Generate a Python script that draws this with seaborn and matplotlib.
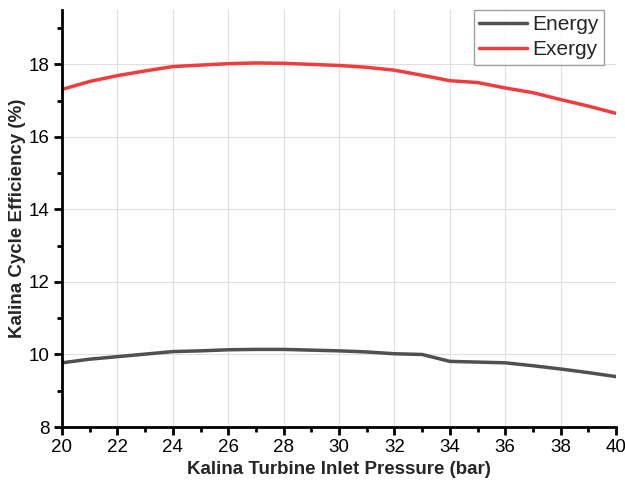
import matplotlib
matplotlib.use("Agg")
import matplotlib.pyplot as plt
import seaborn as sns
import pandas as pd
from matplotlib.ticker import MultipleLocator

pressure = [20, 21, 22, 23, 24, 25, 26, 27, 28, 29, 30, 31, 32, 33, 34, 35, 36, 37, 38, 39, 40]
energy = [9.77, 9.87, 9.94, 10.01, 10.08, 10.10, 10.13, 10.14, 10.14, 10.12, 10.10, 10.07, 10.02, 10.00, 9.81, 9.79, 9.77, 9.69, 9.60, 9.50, 9.39]
exergy = [17.31, 17.53, 17.69, 17.82, 17.94, 17.98, 18.02, 18.04, 18.03, 18.00, 17.97, 17.92, 17.84, 17.70, 17.55, 17.50, 17.35, 17.22, 17.03, 16.85, 16.65]

df = pd.DataFrame({
    "Pressure": pressure * 2,
    "Efficiency": energy + exergy,
    "Series": ["Energy"] * len(pressure) + ["Exergy"] * len(pressure),
})

sns.set_style("white")
plt.rcParams['font.family'] = ['Liberation Sans', 'DejaVu Sans']

fig = plt.figure(figsize=(6.25, 4.88), dpi=100)
ax = fig.add_axes([0.0992, 0.125, 0.8864, 0.8545])

sns.lineplot(data=df, x="Pressure", y="Efficiency", hue="Series",
             palette={"Energy": "#505050", "Exergy": "#f03c3c"},
             linewidth=2.5, ax=ax)

ax.set_xlim(20, 40)
ax.set_ylim(8, 19.5)
ax.xaxis.set_major_locator(MultipleLocator(2))
ax.xaxis.set_minor_locator(MultipleLocator(1))
ax.yaxis.set_major_locator(MultipleLocator(2))
ax.yaxis.set_minor_locator(MultipleLocator(1))
ax.grid(True, which="major", color="#e0e0e0", linewidth=0.8)
ax.set_axisbelow(True)

for s in ["top", "right"]:
    ax.spines[s].set_visible(False)
for s in ["left", "bottom"]:
    ax.spines[s].set_color("black")
    ax.spines[s].set_linewidth(2)

ax.tick_params(which="major", direction="out", length=6, width=2, colors="black",
               labelsize=13.5, left=True, bottom=True, pad=3)
ax.tick_params(which="minor", direction="out", length=3.5, width=2, colors="black",
               left=True, bottom=True)

ax.set_xlabel("Kalina Turbine Inlet Pressure (bar)", fontsize=13.5, fontweight="bold", labelpad=3)
ax.set_ylabel("Kalina Cycle Efficiency (%)", fontsize=13.5, fontweight="bold", labelpad=2)

leg = ax.legend(loc="upper right", fontsize=15, frameon=True, fancybox=False,
                handlelength=2.3, borderpad=0.25, labelspacing=0.3,
                handletextpad=0.25, borderaxespad=0.0, bbox_to_anchor=(0.978, 1.0))
leg.get_frame().set_edgecolor("#888888")
leg.get_frame().set_linewidth(1)
leg.set_title(None)

fig.savefig("out.png", dpi=100)
